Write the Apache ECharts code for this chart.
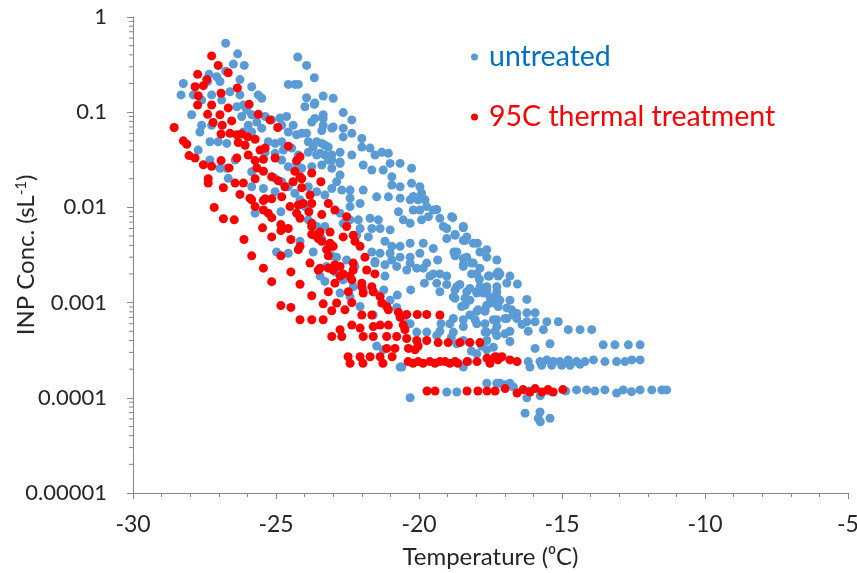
<!DOCTYPE html>
<html><head><meta charset="utf-8">
<script src="https://cdn.jsdelivr.net/npm/echarts@6/dist/echarts.min.js"></script>
<style>html,body{margin:0;padding:0;background:#fff}#c{width:857px;height:573px}</style>
</head><body><div id="c"></div>
<script>
const xTicks = [-30, -25, -20, -15, -10, -5];
const yTickLabels = ['0.00001', '0.0001', '0.001', '0.01', '0.1', '1'];
const seriesNames = ['untreated', '95C thermal treatment'];

const untreated = [
[-26.76,0.53],[-26.34,0.41],[-26.11,0.31],[-26.49,0.32],[-26.76,0.27],[-27.07,0.236],[-27.34,0.25],[-27.39,0.21],[-26.96,0.21],
[-28.24,0.20],[-28.32,0.152],[-27.89,0.152],[-27.95,0.094],[-27.6,0.134],[-27.25,0.152],[-26.9,0.134],[-26.61,0.164],[-26.26,0.22],[-26.26,0.152],[-25.85,0.185],[-25.62,0.152],[-25.5,0.14],
[-24.24,0.38],[-23.93,0.31],[-23.66,0.23],[-24.57,0.196],[-24.34,0.196],[-24.22,0.196],[-23.93,0.142],[-23.35,0.148],[-23.0,0.14],[-23.99,0.114],[-23.66,0.121],[-23.35,0.094],[-23.35,0.086],[-23.05,0.068],[-23.75,0.079],[-23.4,0.064],
[-26.37,0.114],[-26.14,0.119],[-26.02,0.105],[-26.2,0.090],[-25.85,0.094],[-25.67,0.079],[-25.97,0.073],[-26.14,0.062],[-25.85,0.062],[-25.5,0.068],[-25.38,0.090],[-25.15,0.083],[-24.86,0.087],[-24.63,0.090],[-24.4,0.073],[-24.8,0.073],[-24.57,0.062],[-24.28,0.058],[-24.1,0.060],[-23.87,0.049],[-23.7,0.043],[-23.4,0.047],[-23.17,0.043],
[-25.27,0.049],[-25.03,0.047],[-24.8,0.049],[-25.38,0.038],[-25.03,0.037],[-24.74,0.040],[-24.45,0.042],[-24.22,0.0355],[-23.87,0.038],[-23.58,0.0355],[-23.29,0.0355],[-23.05,0.0315],[-24.8,0.0315],[-24.57,0.0268],[-24.28,0.029],[-24.1,0.0258],[-23.75,0.0268],[-23.4,0.0279],[-23.05,0.0258],
[-26.72,0.047],[-27.02,0.049],[-27.31,0.049],[-27.6,0.073],[-27.66,0.062],[-27.25,0.073],[-27.72,0.040],[-27.31,0.0315],[-26.72,0.0258],[-26.43,0.0315],[-26.96,0.0258],[-26.67,0.0202],[-25.85,0.0237],[-25.85,0.0165],[-25.44,0.0158],[-25.03,0.0202],[-25.03,0.0146],[-24.8,0.0186],[-24.57,0.0165],[-24.34,0.0141],[-23.87,0.0165],[-23.58,0.0146],[-23.29,0.0135],[-23.05,0.0158],
[-23.64,0.086],[-23.35,0.073],[-22.65,0.099],[-22.35,0.083],[-23.0,0.070],[-22.65,0.068],[-22.65,0.055],[-22.35,0.060],[-22.0,0.053],[-22.0,0.043],[-21.71,0.042],[-21.54,0.0355],[-21.3,0.038],[-21.07,0.037],[-21.95,0.0279],[-21.65,0.0247],[-21.25,0.0247],[-21.01,0.029],[-20.66,0.029],[-20.95,0.021],[-20.95,0.0172],[-20.66,0.0165],[-20.26,0.0258],[-20.26,0.0179],[-19.97,0.0165],[-19.91,0.0141],[-19.79,0.0120],[-19.73,0.0102],[-19.97,0.0094],[-19.67,0.0080],[-19.38,0.0095],[-19.15,0.0063],[-18.86,0.0080],[-18.45,0.0063],[-18.74,0.0051],[-19.03,0.0047],[-18.39,0.0045],[-18.68,0.0034],[-18.33,0.0030],
[-23.64,0.125],[-22.35,0.0355],[-22.76,0.030],[-20.2,0.013],[-20.03,0.012],[-19.5,0.0094],[-19.27,0.0077],[-19.03,0.006],[-18.33,0.0049],[-18.1,0.0042],[-17.87,0.0034],[-17.63,0.003],[-17.28,0.0028],[-17.17,0.002],[-16.93,0.0016],
[-23.93,0.060],[-23.58,0.049],[-23.29,0.045],[-23.46,0.037],[-23.05,0.0355],[-23.17,0.0315],[-22.76,0.038],[-22.76,0.029],[-22.76,0.0219],[-22.88,0.0186],[-22.7,0.0152],[-22.41,0.0152],[-22.41,0.0125],[-22.41,0.0102],[-22.06,0.011],[-21.95,0.0152],[-21.48,0.0129],[-21.07,0.0129],[-20.66,0.0125],[-20.72,0.0090],[-20.31,0.0120],[-20.2,0.0094],[-20.55,0.0074],[-20.31,0.0068],[-19.91,0.0074],[-22.12,0.0074],[-21.71,0.0077],[-21.42,0.0074],[-22.06,0.0060],[-21.65,0.0060],[-21.36,0.0060],[-21.01,0.0058],[-22.41,0.0074],[-22.76,0.0087],[-22.65,0.0068],[-22.18,0.0051],[-21.77,0.0049],[-21.19,0.0044],[-20.95,0.0039],[-20.66,0.0039],[-20.31,0.0042],[-19.85,0.0042],[-19.5,0.0037],[-21.65,0.0034],[-21.36,0.0033],[-21.01,0.0033],[-20.66,0.0030],[-20.31,0.0030],[-19.97,0.0033],[-19.73,0.0026],[-21.54,0.0026],[-21.19,0.0025],[-20.78,0.0024],[-20.43,0.0022],[-20.08,0.0023],[-19.5,0.0020],[-19.27,0.0020],[-19.03,0.0019],[-21.19,0.0019],[-22.24,0.0024],[-22.53,0.0028],[-22.88,0.0030],[-23.23,0.0024],[-23.46,0.0019],
[-18.82,0.0078],[-18.45,0.0061],[-18.74,0.0052],[-18.45,0.0045],[-17.96,0.0042],[-17.63,0.0036],[-18.78,0.0034],[-18.74,0.0031],[-18.45,0.0029],[-18.16,0.0026],[-18.45,0.0024],[-17.87,0.0023],[-18.16,0.0020],[-17.23,0.0021],[-17.23,0.0019],[-17.54,0.0019],[-16.82,0.0019],[-17.89,0.00176],[-16.56,0.00157],[-18.57,0.00155],[-18.22,0.00141],[-17.87,0.00147],[-17.63,0.00136],[-18.74,0.00136],[-18.8,0.00115],[-18.39,0.00111],[-18.39,0.00094],[-17.98,0.00126],[-17.52,0.00115],[-17.28,0.0013],[-17.17,0.00106],[-16.82,0.00106],[-16.23,0.00108],[-17.52,0.00099],[-17.23,0.00091],[-16.76,0.00084],[-16.58,0.00077],[-16.23,0.00078],[-15.94,0.00078],[-15.94,0.00063],[-15.53,0.00063],[-15.13,0.00063],[-16.23,0.00063],[-16.58,0.00068],[-16.93,0.00068],[-17.28,0.00066],[-17.69,0.00081],[-17.98,0.00081],[-18.04,0.00066],[-18.45,0.00066],[-18.8,0.00068],[-14.78,0.00052],[-14.37,0.00052],[-13.96,0.00052],
[-21.54,0.0027],[-20.95,0.0028],[-20.31,0.0026],[-19.85,0.0023],[-19.62,0.0019],[-19.38,0.0016],[-19.27,0.0013],[-19.03,0.00155],[-18.68,0.00147],[-18.45,0.0025],[-18.1,0.0026],[-18.33,0.0013],[-17.98,0.0013],[-17.63,0.00147],[-17.28,0.00147],[-17.98,0.0020],[-17.58,0.0019],[-17.28,0.0020],[-18.74,0.00111],[-18.51,0.00091],[-18.22,0.00106],[-17.75,0.00126],[-17.28,0.00115],[-18.22,0.00074],[-17.93,0.00084],[-17.69,0.00084],[-17.34,0.00099],[-18.45,0.00056],[-17.98,0.0006],[-17.69,0.0006],[-17.4,0.00066],[-17.28,0.00056],[-18.92,0.0006],[-18.8,0.00049],[-19.27,0.0005],[-18.68,0.00037],[-18.45,0.0004],[-17.63,0.00049],[-17.28,0.00045],[-17.63,0.00032],[-17.4,0.00034],[-17.28,0.00027],[-17.98,0.00029],[-18.28,0.00024],[-18.45,0.00021],[-20.78,0.00089],[-21.01,0.00106],[-21.36,0.0012],[-21.6,0.0013],[-21.95,0.00136],[-22.3,0.00147],[-22.65,0.00173],[-22.41,0.00115],[-22.76,0.00126],[-22.06,0.00091],[-21.6,0.00074],[-21.48,0.00035],[-21.25,0.00032],[-20.66,0.00021],[-20.55,0.00066],[-20.31,0.0006],[-20.08,0.00049],[-19.73,0.00049],[-19.38,0.00045],[-17.63,0.000142],[-17.28,0.000142],[-19.03,0.000115],[-18.68,0.000115],[-20.31,0.0001],
[-17.63,0.00094],[-17.28,0.00099],[-16.93,0.00088],[-16.7,0.00074],[-16.99,0.00068],[-17.69,0.00049],[-17.34,0.0005],[-16.82,0.0005],[-16.18,0.0005],[-15.65,0.00052],[-17.63,0.0004],[-16.82,0.00039],[-15.42,0.00037],[-15.94,0.00033],[-13.56,0.00036],[-13.15,0.00036],[-12.68,0.00036],[-12.27,0.00036],
[-16.18,0.00024],[-15.77,0.00024],[-15.53,0.00025],[-15.3,0.00024],[-15.07,0.00024],[-14.78,0.00025],[-14.49,0.00024],[-14.2,0.00024],[-13.9,0.00025],[-13.5,0.00024],[-13.09,0.00024],[-12.8,0.00024],[-12.56,0.00025],[-12.27,0.00025],[-16.12,0.00021],[-15.71,0.00022],[-15.36,0.00022],[-15.01,0.00022],[-14.72,0.00022],[-14.37,0.000225],
[-17.17,0.000142],[-16.82,0.000142],[-16.7,0.00013],[-16.99,0.000137],
[-16.16,0.000118],[-15.76,0.000105],[-15.46,0.000118],[-14.87,0.000118],[-14.49,0.000121],[-14.14,0.000121],[-13.85,0.000118],[-13.5,0.000121],[-13.09,0.000112],[-12.86,0.000121],[-12.57,0.000116],[-12.27,0.000121],[-11.86,0.000121],[-11.51,0.000121],[-11.34,0.000121],[-16.23,0.0001],
[-16.29,0.000069],[-15.77,0.000071],[-15.83,0.000061],[-15.42,0.000061],[-15.76,0.000056],
[-25.73,0.0087],[-24.83,0.0090],[-24.16,0.012],[-23.99,0.0102],[-23.87,0.0074],[-23.58,0.0063],[-23.29,0.0063],[-23.4,0.0047],[-23.17,0.0040],[-23.05,0.0031],[-24.98,0.0034],[-24.57,0.0033],[-24.16,0.0044],[-23.7,0.0034],[-23.29,0.00167],[-22.94,0.0021],
[-19.35,0.0028],[-19.81,0.0016],[-20.29,0.00136],[-20.76,0.0012],[-21.23,0.00136],[-19.23,0.0006],[-18.87,0.00043],[-18.17,0.00031],[-17.81,0.00035],[-17.0,0.00047],[-16.4,0.00059],[-20.6,0.00021]
];

const treated95C = [
[-27.25,0.39],[-27.02,0.31],[-26.67,0.26],[-27.74,0.25],[-27.42,0.22],[-27.83,0.185],[-27.54,0.19],[-26.35,0.18],[-27.72,0.149],[-26.92,0.158],[-27.74,0.119],[-27.25,0.119],[-26.67,0.111],[-25.94,0.121],[-27.39,0.095],[-26.96,0.094],[-25.62,0.095],[-25.21,0.083],[-27.2,0.078],[-26.55,0.081],[-28.56,0.069],[-26.88,0.073],[-24.94,0.069],[-26.92,0.059],[-26.61,0.060],[-26.37,0.058],[-26.2,0.059],[-25.99,0.055],[-25.73,0.052],[-28.24,0.050],[-28.12,0.046],[-26.32,0.048],[-26.08,0.045],[-25.38,0.042],[-25.56,0.040],[-24.57,0.044],[-28.04,0.035],[-27.83,0.033],[-26.37,0.033],[-25.97,0.0355],[-25.73,0.031],[-25.44,0.032],[-25.03,0.033],[-24.16,0.034],[-24.28,0.031],[-27.54,0.028],[-27.25,0.027],[-26.92,0.031],[-26.64,0.026],[-25.67,0.026],[-25.44,0.024],[-25.15,0.021],[-24.92,0.019],[-24.34,0.024],[-24.1,0.020],[-23.75,0.023],[-23.43,0.0186],[-27.37,0.020],[-27.37,0.018],[-26.84,0.0161],[-26.43,0.018],[-26.14,0.018],[-25.73,0.020],[-24.69,0.0165],[-24.4,0.0186],[-24.1,0.0161],[-23.81,0.0135],[-26.26,0.0137],[-25.91,0.0125],[-25.38,0.0123],[-25.15,0.0123],
[-27.16,0.0100],[-26.84,0.0076],[-26.46,0.0074],[-25.85,0.012],[-25.44,0.0118],[-24.8,0.0129],[-25.73,0.0102],[-25.44,0.0094],[-25.27,0.0087],[-25.15,0.0078],[-24.51,0.0102],[-24.22,0.0106],[-24.05,0.011],[-23.75,0.011],[-24.28,0.0087],[-24.16,0.0077],[-23.85,0.0090],[-23.4,0.0084],[-23.17,0.011],[-26.12,0.0046],[-25.47,0.0061],[-25.15,0.0049],[-24.83,0.0066],[-24.83,0.0057],[-24.57,0.006],[-24.48,0.0046],[-25.85,0.0031],[-24.83,0.0031],[-24.22,0.0036],[-24.16,0.0039],[-23.75,0.0063],[-23.75,0.0052],[-23.46,0.0055],[-23.4,0.0044],[-23.52,0.0047],[-23.11,0.0055],[-23.05,0.0039],[-23.17,0.0031],[-25.44,0.0023],[-24.48,0.0021],[-23.81,0.0026],[-23.52,0.0022],[-23.17,0.0023],[-25.15,0.00166],[-24.16,0.00156],[-23.75,0.00118],[-23.17,0.0013],[-23.35,0.00097],[-23.05,0.00082],[-24.83,0.00093],[-24.48,0.00089],[-24.16,0.00066],[-23.75,0.00066],[-23.35,0.00066],[-23.05,0.00044],
[-24.16,0.021],[-22.94,0.0094],[-22.53,0.008],[-22.53,0.0063],[-23.75,0.0068],[-23.64,0.0051],[-23.11,0.0042],[-23.0,0.0039],[-22.65,0.0049],[-22.3,0.0051],[-22.24,0.0044],[-22.06,0.0039],[-23.23,0.0036],[-23.46,0.0023],[-23.0,0.0022],[-22.76,0.0024],[-22.65,0.0020],[-22.41,0.0019],[-22.3,0.0022],[-21.83,0.0022],[-21.54,0.0020],[-21.89,0.0030],
[-22.94,0.0025],[-22.3,0.0026],[-22.76,0.0019],[-22.35,0.00173],[-22.0,0.0016],[-22.0,0.00147],[-21.65,0.00147],[-22.94,0.0016],[-22.47,0.0013],[-21.95,0.00126],[-21.6,0.0013],[-21.36,0.00115],[-21.3,0.00099],[-21.13,0.00091],[-21.07,0.00084],[-22.88,0.00099],[-22.35,0.001],[-22.59,0.00084],[-22.0,0.00074],[-21.65,0.00074],[-20.72,0.00079],[-20.66,0.0007],[-20.43,0.00075],[-20.06,0.00075],[-19.73,0.00075],[-19.27,0.00074],[-22.35,0.00058],[-22.06,0.00054],[-21.6,0.00056],[-21.36,0.00058],[-21.07,0.00058],[-20.55,0.00058],[-20.49,0.00052],[-22.76,0.00052],[-22.7,0.00044],[-21.95,0.00044],[-21.6,0.00044],[-21.13,0.00044],[-20.78,0.00044],[-20.43,0.00042],[-20.08,0.0004],[-19.73,0.0004],[-19.33,0.00038],[-18.98,0.00038],[-18.57,0.00038],[-18.22,0.00038],[-17.87,0.00038],[-21.13,0.00033],[-20.84,0.00033],[-20.37,0.00033],[-20.14,0.00032],[-20.03,0.00035],
[-22.48,0.00027],[-22.41,0.00023],[-22.06,0.00027],[-21.96,0.00023],[-21.71,0.00027],[-21.36,0.00027],[-21.26,0.00023],[-20.94,0.00027],[-20.38,0.00024],[-20.21,0.00023],[-20.03,0.00024],[-19.86,0.00023],[-19.62,0.00024],[-19.44,0.00023],[-19.27,0.00024],[-19.09,0.00024],[-18.92,0.00023],[-18.74,0.00024],[-18.64,0.00023],[-18.32,0.00024],[-17.97,0.00024],[-17.62,0.00026],[-17.52,0.00023],[-17.34,0.00027],[-17.24,0.00025],[-17.1,0.00027],[-16.82,0.00025],[-16.57,0.00024],
[-19.72,0.000118],[-19.44,0.000118],[-18.32,0.000118],[-17.94,0.000118],[-17.62,0.000118],[-17.34,0.000118],[-16.99,0.000125],[-16.57,0.000112],[-16.36,0.000122],[-16.12,0.000115],[-15.94,0.000125],[-15.7,0.000115],[-15.49,0.000122],[-15.31,0.000115],[-14.97,0.000122]
];

// Minor tick positions of the log axis (2..9 in each decade)
const yMinorTicks = [];
for (let e = -5; e < 0; e++) for (let m = 2; m <= 9; m++) yMinorTicks.push(m * Math.pow(10, e));

const FONT = 'Lato';
const axisCol = '#868686';
const txtCol = '#262626';

const chart = echarts.init(document.getElementById('c'), null, {renderer: 'canvas'});
chart.setOption({
  animation: false,
  backgroundColor: '#fff',
  grid: {left: 133, right: 9, top: 17, bottom: 80, containLabel: false, outerBoundsMode: 'none'},
  legend: {
    orient: 'vertical', left: 466, top: 37, itemGap: 30,
    icon: 'circle', itemWidth: 7, itemHeight: 7,
    textStyle: {fontFamily: FONT, fontSize: 28.5, lineHeight: 30, padding: [0, 0, 0, 6]},
    data: [
      {name: seriesNames[0], textStyle: {color: '#0070c0'}},
      {name: seriesNames[1], textStyle: {color: '#ff0000'}}
    ]
  },
  xAxis: {
    type: 'value', min: xTicks[0], max: xTicks[xTicks.length - 1], interval: 5,
    name: 'Temperature (\u2070C)', nameLocation: 'middle', nameGap: 52, nameMoveOverlap: false,
    nameTextStyle: {fontFamily: FONT, fontSize: 24, color: txtCol},
    axisLine: {show: true, onZero: false, lineStyle: {color: axisCol, width: 1}},
    axisTick: {show: true, length: 6, lineStyle: {color: axisCol}},
    minorTick: {show: true, splitNumber: 5, length: 4, lineStyle: {color: axisCol}},
    axisLabel: {fontFamily: FONT, fontSize: 23, color: txtCol, margin: 20},
    splitLine: {show: false}, minorSplitLine: {show: false}
  },
  yAxis: {
    type: 'log', logBase: 10, min: 0.00001, max: 1, splitNumber: 5,
    name: 'INP Conc. (sL{sup|-1})', nameLocation: 'middle', nameGap: 94, nameRotate: 90, nameMoveOverlap: false,
    nameTextStyle: {fontFamily: FONT, fontSize: 24, color: txtCol,
      rich: {sup: {fontFamily: FONT, fontSize: 15, color: txtCol, verticalAlign: 'top', padding: [0, 0, 10, 0]}}},
    axisLine: {show: true, onZero: false, lineStyle: {color: axisCol, width: 1}},
    axisTick: {show: true, length: 6, lineStyle: {color: axisCol}},
    axisLabel: {fontFamily: FONT, fontSize: 22, color: txtCol, margin: 26,
      formatter: function (v) {
        const e = Math.round(Math.log10(v));
        const i = e + 5;
        return yTickLabels[i] !== undefined ? yTickLabels[i] : '';
      }},
    splitLine: {show: false}
  },
  series: [
    {
      name: seriesNames[0], type: 'scatter', data: untreated, symbol: 'circle', symbolSize: 9,
      itemStyle: {color: '#5b9bd5', opacity: 1}, z: 2
    },
    {
      name: seriesNames[1], type: 'scatter', data: treated95C, symbol: 'circle', symbolSize: 9,
      itemStyle: {color: '#ff0000', opacity: 1}, z: 3
    },
    {
      name: 'yMinor', type: 'custom', silent: true, clip: false, z: 1,
      data: yMinorTicks.map(v => [xTicks[0], v]),
      renderItem: function (params, api) {
        const p = api.coord([api.value(0), api.value(1)]);
        return {type: 'line', shape: {x1: p[0] - 4, y1: p[1], x2: p[0], y2: p[1]},
          style: {stroke: axisCol, lineWidth: 1}};
      }
    }
  ]
});
</script></body></html>
